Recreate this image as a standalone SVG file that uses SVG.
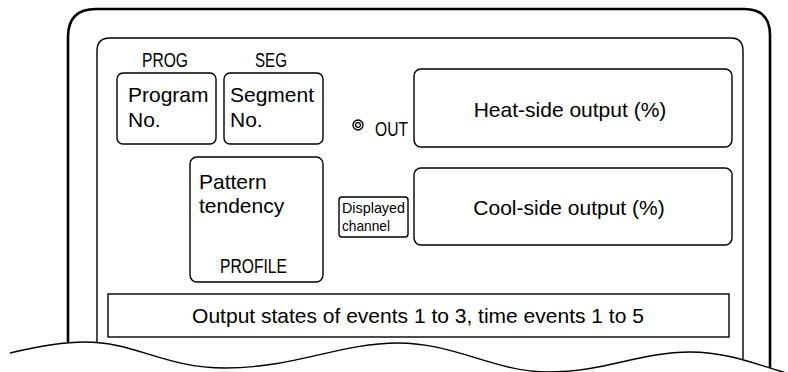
<svg xmlns="http://www.w3.org/2000/svg" width="788" height="372" viewBox="0 0 788 372">
<style>
.t{font-family:"Liberation Sans",Arial,sans-serif;fill:#000}
.s{font-size:19.5px}
.box{fill:#fff;stroke:#000;stroke-width:1.4}
.frame{fill:none;stroke:#000}
</style>
<rect width="788" height="372" fill="#fff"/>
<g id="frame">
<path class="frame" stroke-width="2.6" d="M68,372 V37 Q68,9 96,9 H744 Q770,9 770,35 V372"/>
<path class="frame" stroke-width="1.4" d="M97,372 V51 Q97,38 110,38 H731 Q743,38 743,51 V372"/>
<path fill="#fff" stroke="none" d="M10,353 C35,347 60,342 85,342 C135,342 165,368 225,368 C295,368 340,343 398,343 C455,343 495,372 548,372 C605,372 640,352 690,352 C730,352 760,366 790,374 V380 H0 V353 Z"/>
<path class="frame" stroke-width="1.4" d="M10,353 C35,347 60,342 85,342 C135,342 165,368 225,368 C295,368 340,343 398,343 C455,343 495,372 548,372 C605,372 640,352 690,352 C730,352 760,366 790,374"/>
</g>
<g id="prog">
<text class="t s" x="142" y="67" textLength="46" lengthAdjust="spacingAndGlyphs">PROG</text>
<rect class="box" x="117" y="73" width="99" height="71" rx="6"/>
<text class="t" x="128" y="102" font-size="21">Program</text>
<text class="t" x="128" y="127" font-size="21">No.</text>
</g>
<g id="seg">
<text class="t s" x="255" y="67" textLength="32" lengthAdjust="spacingAndGlyphs">SEG</text>
<rect class="box" x="224" y="73" width="99" height="71" rx="6"/>
<text class="t" x="230" y="102" font-size="21">Segment</text>
<text class="t" x="230" y="127" font-size="21">No.</text>
</g>
<g id="out">
<circle cx="358" cy="125" r="5" fill="none" stroke="#000" stroke-width="1.4"/>
<circle cx="358" cy="125" r="2.4" fill="none" stroke="#000" stroke-width="1.2"/>
<text class="t s" x="375" y="136" textLength="33" lengthAdjust="spacingAndGlyphs">OUT</text>
</g>
<g id="heat">
<rect class="box" x="414" y="69" width="318" height="78" rx="7"/>
<text class="t" x="570" y="117" font-size="21" text-anchor="middle">Heat-side output (%)</text>
</g>
<g id="cool">
<rect class="box" x="414" y="168" width="318" height="77" rx="7"/>
<text class="t" x="569" y="215" font-size="21" text-anchor="middle">Cool-side output (%)</text>
</g>
<g id="pattern">
<rect class="box" x="190" y="157" width="133" height="125" rx="7"/>
<text class="t" x="199" y="189" font-size="21">Pattern</text>
<text class="t" x="199" y="213" font-size="21">tendency</text>
<text class="t s" x="220" y="273" textLength="67" lengthAdjust="spacingAndGlyphs">PROFILE</text>
</g>
<g id="channel">
<rect class="box" x="339" y="197" width="69" height="40" rx="3"/>
<text class="t" x="342" y="213" font-size="14.5" textLength="63" lengthAdjust="spacingAndGlyphs">Displayed</text>
<text class="t" x="342" y="231" font-size="14.5" textLength="48" lengthAdjust="spacingAndGlyphs">channel</text>
</g>
<g id="events">
<rect class="box" x="108" y="294" width="621" height="43"/>
<text class="t" x="418" y="323" font-size="21" text-anchor="middle">Output states of events 1 to 3, time events 1 to 5</text>
</g>
</svg>
